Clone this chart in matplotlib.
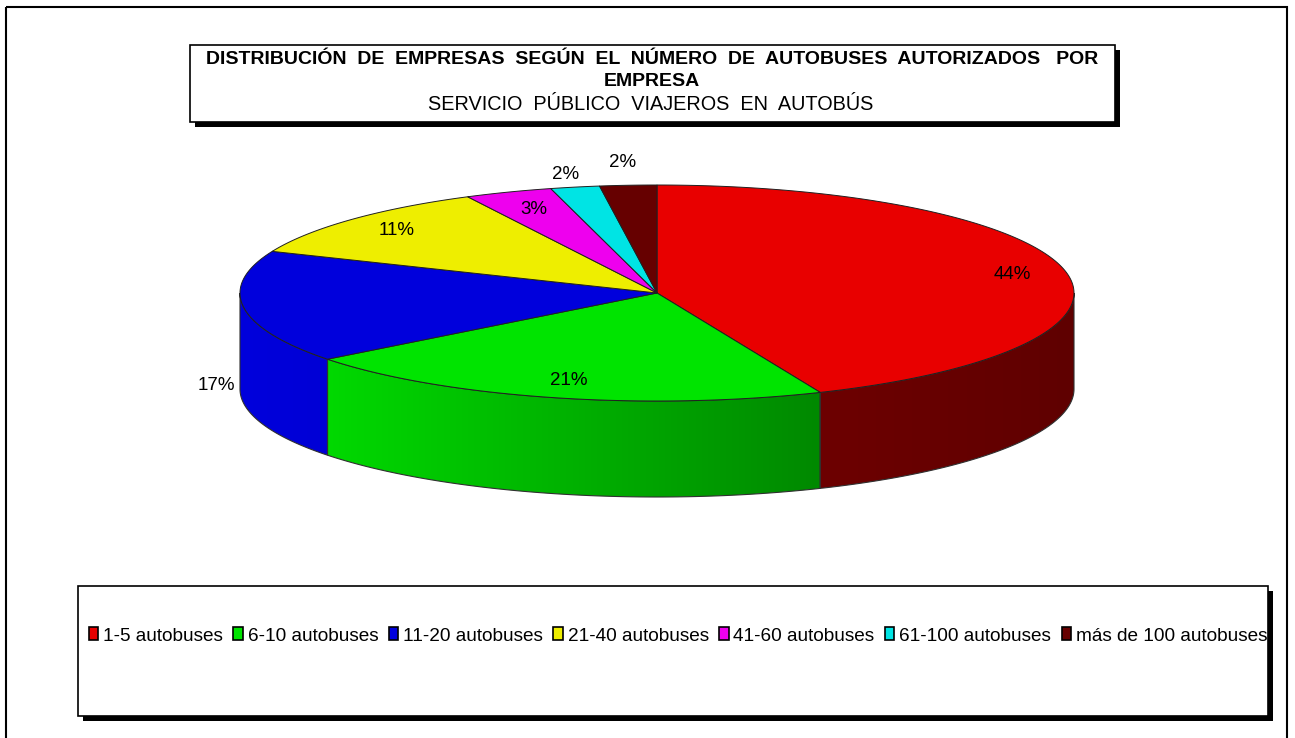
import numpy as np
import matplotlib
matplotlib.use("Agg")
import matplotlib.pyplot as plt
from matplotlib.patches import Polygon, Rectangle, Patch

plt.rcParams['font.family'] = ['Liberation Sans', 'DejaVu Sans']

# data (percent of companies)
categories = ['1-5 autobuses', '6-10 autobuses', '11-20 autobuses', '21-40 autobuses',
              '41-60 autobuses', '61-100 autobuses', 'más de 100 autobuses']
shares = [43.6, 20.9, 16.8, 11.2, 3.4, 1.9, 2.2]
colors = ['#E80000', '#00E400', '#0000DC', '#EEEE00', '#EE00EE', '#00E4E4', '#660000']
title_lines = ['DISTRIBUCIÓN  DE  EMPRESAS  SEGÚN  EL  NÚMERO  DE  AUTOBUSES  AUTORIZADOS   POR',
               'EMPRESA']
subtitle = 'SERVICIO  PÚBLICO  VIAJEROS  EN  AUTOBÚS'

# layout in pixels
cx, cy, ra, rb, depth = 657, 293, 417, 108, 96
lab_r = [0.87, 0.84, 1.065, 0.85, 0.83, 1.12, 1.21]
lab_dy = [0, 0, 77, 0, 0, 0, 0]
# side shading (left, right) factor
side_shade = [(0.47, 0.41), (0.95, 0.6), (1.0, 0.97), (1, 1), (1, 1), (1, 1), (1, 1)]

fig = plt.figure(figsize=(12.95, 7.38), dpi=100)
ax = fig.add_axes([0, 0, 1, 1])
ax.set_xlim(0, 1295)
ax.set_ylim(738, 0)
ax.axis('off')


def pt(th, r=1.0, dz=0.0):
    return cx + ra * r * np.cos(np.radians(th)), cy - rb * r * np.sin(np.radians(th)) + dz


fr = np.array(shares) / np.sum(shares)
ends = 90 - 360 * np.cumsum(fr)
starts = np.concatenate([[90], ends[:-1]])

# side walls (front half: angles 180..360)
for i in range(len(shares)):
    a0, a1 = ends[i] % 360, starts[i] % 360
    if a1 <= a0:
        a1 += 360
    lo, hi = max(a0, 180), min(a1, 360)
    if hi <= lo:
        continue
    th = np.linspace(lo, hi, 120)
    xs, ys = pt(th)
    poly = np.vstack([np.column_stack([xs, ys]),
                      np.column_stack([xs[::-1], ys[::-1] + depth])])
    p = Polygon(poly, closed=True, facecolor='none', edgecolor='#303030', lw=0.8, zorder=3)
    ax.add_patch(p)
    base = np.array(matplotlib.colors.to_rgb(colors[i]))
    f = np.linspace(side_shade[i][0], side_shade[i][1], 200)
    grad = np.clip(base[None, None, :] * f[None, :, None], 0, 1)
    x0, x1 = xs.min(), xs.max()
    im = ax.imshow(grad, extent=[x0, x1, ys.max() + depth, ys.min()], aspect='auto',
                   zorder=2, interpolation='bilinear')
    im.set_clip_path(p)

# top face
for i in range(len(shares)):
    th = np.linspace(starts[i], ends[i], 150)
    xs, ys = pt(th)
    poly = np.vstack([[cx, cy], np.column_stack([xs, ys])])
    ax.add_patch(Polygon(poly, closed=True, facecolor=colors[i], edgecolor='#202020',
                         lw=0.7, zorder=4))

# labels
for i in range(len(shares)):
    mid = (starts[i] + ends[i]) / 2
    x, y = pt(mid, lab_r[i], lab_dy[i])
    ax.text(x, y, '{:.0f}%'.format(shares[i]), ha='center', va='center',
            fontsize=13.5, zorder=6)

# outer frame
ax.add_patch(Rectangle((6, 7), 1281, 740, facecolor='none', edgecolor='black', lw=1.5, zorder=1))

# title box with shadow
ax.add_patch(Rectangle((195, 50), 925, 77, facecolor='black', edgecolor='none', zorder=5))
ax.add_patch(Rectangle((190, 45), 925, 77, facecolor='white', edgecolor='black', lw=1.2, zorder=5))
ax.text(652, 59, title_lines[0], ha='center', va='center', fontsize=14, fontweight='bold', zorder=6)
ax.text(652, 81, title_lines[1], ha='center', va='center', fontsize=14, fontweight='bold', zorder=6)
ax.text(651, 105, subtitle, ha='center', va='center', fontsize=14.3, zorder=6)

# legend box with shadow
ax.add_patch(Rectangle((83, 591), 1190, 130, facecolor='black', edgecolor='none', zorder=5))
ax.add_patch(Rectangle((78, 586), 1190, 130, facecolor='white', edgecolor='black', lw=1.2, zorder=5))
handles = [Patch(facecolor=c, edgecolor='black', lw=1.2) for c in colors]
leg = ax.legend(handles, categories, loc='center', bbox_to_anchor=(678 / 1295, 1 - 636 / 738),
                ncol=7, frameon=False, fontsize=13.7, handlelength=0.5, handleheight=0.65,
                handletextpad=0.25, columnspacing=0.55, borderpad=0)
leg.set_zorder(7)

fig.savefig('out.png', dpi=100)
